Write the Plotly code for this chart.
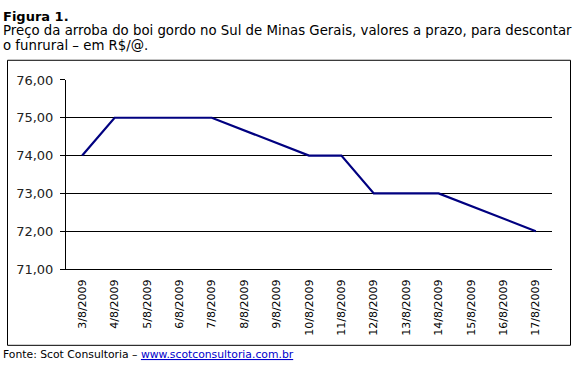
import plotly.graph_objects as go

dates = ["3/8/2009", "4/8/2009", "5/8/2009", "6/8/2009", "7/8/2009", "8/8/2009",
         "9/8/2009", "10/8/2009", "11/8/2009", "12/8/2009", "13/8/2009", "14/8/2009",
         "15/8/2009", "16/8/2009", "17/8/2009"]
prices = [74, 75, 75, 75, 75, None, None, 74, 74, 73, 73, 73, None, None, 72]
y_ticks = [71, 72, 73, 74, 75, 76]

W, H = 578, 373
def px(x):
    return x / W
def py(y):
    return 1 - y / H

fig = go.Figure()
fig.add_trace(go.Scatter(x=dates, y=prices, mode="lines", connectgaps=True,
                         line=dict(color="#000080", width=2.2), hoverinfo="skip"))

fig.update_layout(
    width=W, height=H, margin=dict(l=0, r=0, t=0, b=0),
    paper_bgcolor="white", plot_bgcolor="white", showlegend=False,
    separators=", ",
    xaxis=dict(domain=[px(66), px(552)], type="category", range=[-0.5, 14.5],
               tickangle=-90, showline=True, linecolor="black", linewidth=1,
               showgrid=False, ticks="", ticklabelstandoff=5,
               tickfont=dict(family="DejaVu Sans", size=11, color="black")),
    yaxis=dict(domain=[py(273), py(76)], range=[71, 76], tickvals=y_ticks,
               tickformat=".2f", showline=True, linecolor="black", linewidth=1,
               showgrid=True, gridcolor="black", gridwidth=1, zeroline=False,
               ticks="outside", ticklen=5, tickcolor="black", ticklabelstandoff=4,
               tickfont=dict(family="DejaVu Sans", size=13, color="#222")),
    shapes=[dict(type="rect", xref="paper", yref="paper", x0=px(7.5), x1=px(570.5),
                 y0=py(352.5), y1=py(55.5), line=dict(color="black", width=1))],
    annotations=[
        dict(text="<b>Figura 1.</b>", x=px(1), y=py(10), xref="paper", yref="paper",
             xanchor="left", yanchor="middle", showarrow=False,
             font=dict(family="DejaVu Sans", size=13, color="black")),
        dict(text="Preço da arroba do boi gordo no Sul de Minas Gerais, valores a prazo, para descontar",
             x=px(1), y=py(25), xref="paper", yref="paper",
             xanchor="left", yanchor="middle", showarrow=False,
             font=dict(family="DejaVu Sans", size=13.3, color="black")),
        dict(text="o funrural – em R$/@.", x=px(1), y=py(40), xref="paper", yref="paper",
             xanchor="left", yanchor="middle", showarrow=False,
             font=dict(family="DejaVu Sans", size=13.3, color="black")),
        dict(text="Fonte: Scot Consultoria – <span style='color:#0000cc'><u>www.scotconsultoria.com.br</u></span>",
             x=px(1), y=py(362), xref="paper", yref="paper",
             xanchor="left", yanchor="middle", showarrow=False,
             font=dict(family="DejaVu Sans", size=10.8, color="black")),
    ],
)

fig.write_html("out.html")
